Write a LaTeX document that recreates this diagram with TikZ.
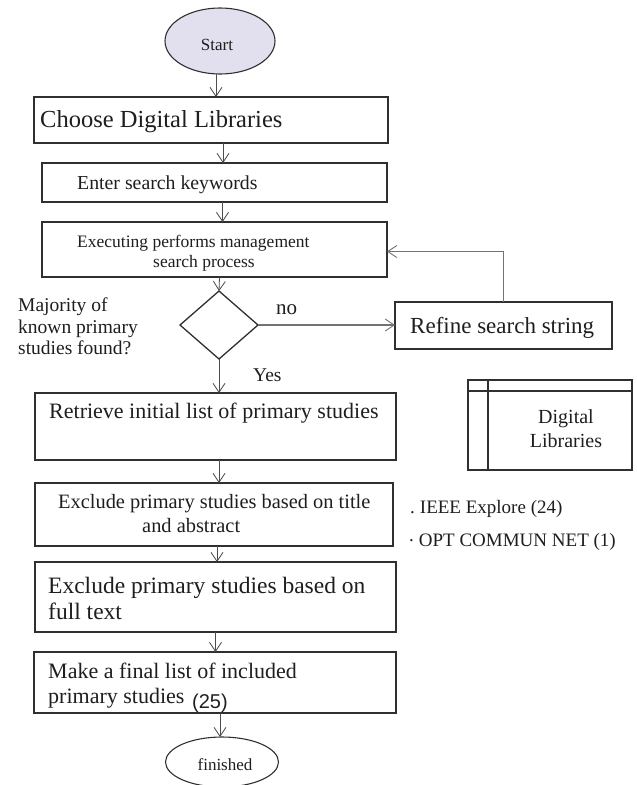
\documentclass[tikz,border=0pt]{standalone}
\usepackage{fontspec}
\setmainfont{Liberation Serif}
\newfontfamily\sansf{Liberation Sans}
\usetikzlibrary{arrows.meta,shapes.geometric}
\definecolor{lav}{HTML}{E2DFEE}
\definecolor{ink}{HTML}{1E1E1E}
\definecolor{edge}{HTML}{303030}
\newcommand{\rectnode}[5]{%
  \node[box, minimum width={(#4)-(#2)}, minimum height={(#5)-(#3)}] (#1) at ({((#2)+(#4))/2},{((#3)+(#5))/2}) {};}
\tikzset{
  box/.style={draw=edge, line width=1.3pt, inner sep=0pt, outer sep=0pt, rectangle},
  oval/.style={draw=edge, line width=1.1pt, ellipse, inner sep=0pt, outer sep=0pt},
  arr/.style={draw=black!70, line width=0.8pt, -{Straight Barb[length=9pt,width=12pt,line width=0.8pt]}},
  garr/.style={draw=black!55, line width=1.4pt, -{Straight Barb[length=9pt,width=12pt,line width=0.9pt]}},
  txt/.style={anchor=base west, inner sep=0pt, text=ink},
  ctxt/.style={anchor=base, inner sep=0pt, text=ink},
}
\begin{document}
\begin{tikzpicture}[x=1pt,y=-1pt]
\useasboundingbox (0,0) rectangle (637,785);
% shapes
\node[oval, fill=lav, minimum width=110pt, minimum height=66pt] (start) at (220,41) {};
\rectnode{choose}{34}{97}{388}{143}
\rectnode{enter}{42}{163}{387}{202}
\rectnode{exec}{42}{222}{387}{277}
\node[draw=edge, line width=1.3pt, diamond, inner sep=0pt, outer sep=0pt, minimum width=78pt, minimum height=68pt] (dia) at (219,325) {};
\rectnode{refine}{395}{302}{612}{349}
\rectnode{retrieve}{35}{393}{396}{460}
\rectnode{exclA}{35}{483}{393}{546}
\rectnode{exclB}{35}{562}{396}{632}
\rectnode{make}{34}{652}{396}{713}
\node[oval, minimum width=113pt, minimum height=50pt] (fin) at (222,762) {};
\rectnode{dl}{468}{380}{632}{470}
\draw[edge, line width=1.3pt] (dl.north west |- 0,391) coordinate (dlh) -- (dl.north east |- 0,391);
\draw[edge, line width=1.3pt] (488,380) coordinate (dlv) -- (488,470);
% texts
\node[ctxt, font=\fontsize{17}{20}\selectfont] (tstart) at (217,50) {Start};
\node[txt, font=\fontsize{24.5}{28}\selectfont] (tchoose) at (40,127) {Choose Digital Libraries};
\node[txt, font=\fontsize{19.8}{23}\selectfont] (tenter) at (77,189) {Enter search keywords};
\node[txt, font=\fontsize{17.5}{20}\selectfont] (texA) at (77,247) {Executing performs management};
\node[txt, font=\fontsize{17.5}{20}\selectfont] (texB) at (153,267) {search process};
\node[txt, font=\fontsize{19.5}{22}\selectfont] (tmA) at (18,311) {Majority of};
\node[txt, font=\fontsize{19.5}{22}\selectfont] (tmB) at (18,333) {known primary};
\node[txt, font=\fontsize{19.5}{22}\selectfont] (tmC) at (18,354) {studies found?};
\node[txt, font=\fontsize{21}{24}\selectfont] (tno) at (276,314) {no};
\node[txt, font=\fontsize{19.5}{22}\selectfont] (tyes) at (253,381) {Yes};
\node[txt, font=\fontsize{23}{26}\selectfont] (trefine) at (410,333) {Refine search string};
\node[txt, font=\fontsize{22}{26}\selectfont] (tret) at (49,418) {Retrieve initial list of primary studies};
\node[txt, font=\fontsize{20.4}{24}\selectfont] (teaA) at (58,508) {Exclude primary studies based on title};
\node[txt, font=\fontsize{20.4}{24}\selectfont] (teaB) at (142,532) {and abstract};
\node[txt, font=\fontsize{23.5}{27}\selectfont] (tebA) at (48,593) {Exclude primary studies based on};
\node[txt, font=\fontsize{23.5}{27}\selectfont] (tebB) at (48,619) {full text};
\node[txt, font=\fontsize{22}{26}\selectfont] (tmkA) at (48,678) {Make a final list of included};
\node[txt, font=\fontsize{22}{26}\selectfont] (tmkB) at (48,703) {primary studies};
\node[txt, font=\sansf\fontsize{20}{24}\selectfont] (t25) at (192,708) {(25)};
\node[ctxt, font=\fontsize{17}{20}\selectfont] (tfin) at (225,770) {finished};
\node[ctxt, font=\fontsize{20}{24}\selectfont] (tdlA) at (566,423) {Digital};
\node[ctxt, font=\fontsize{20}{24}\selectfont] (tdlB) at (566,447) {Libraries};
\node[txt, font=\fontsize{19}{22}\selectfont] (tieee) at (410,513) {.\hspace{5pt}IEEE Explore (24)};
\node[txt, font=\fontsize{19}{22}\selectfont] (topt) at (409,546) {\raisebox{5pt}{.}\hspace{5pt}OPT COMMUN NET (1)};
% connectors
\draw[arr] ([xshift=-4pt]start.south) -- ([xshift=-4pt]start.south |- choose.north);
\draw[arr] ([xshift=12pt]choose.south) -- ([xshift=12pt]choose.south |- enter.north);
\draw[arr] ([xshift=8pt]enter.south) -- ([xshift=8pt]enter.south |- exec.north);
\draw[arr] ([xshift=5pt]exec.south) -- (dia.north);
\draw[arr] (dia.south) -- (dia.south |- retrieve.north);
\draw[garr] (dia.east) -- (dia.east -| refine.west);
\draw[garr] (refine.north) |- ([yshift=-2pt]exec.east);
\draw[arr] ([xshift=3.5pt]retrieve.south) -- ([xshift=3.5pt]retrieve.south |- exclA.north);
\draw[arr] ([xshift=3pt]exclA.south) -- ([xshift=3pt]exclA.south |- exclB.north);
\draw[arr] (exclB.south) -- (exclB.south |- make.north);
\draw[arr] ([xshift=5pt]make.south) -- ([xshift=5pt]make.south |- fin.north);
\end{tikzpicture}
\end{document}
